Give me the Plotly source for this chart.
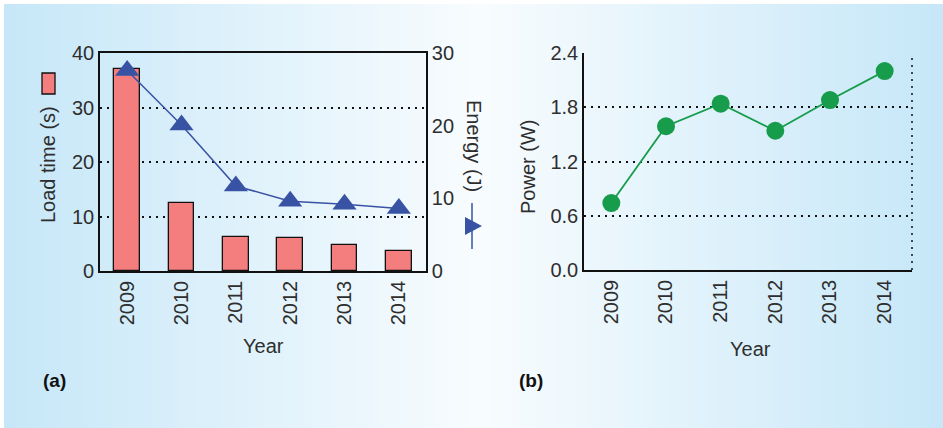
import plotly.graph_objects as go

W, H = 943, 428

# ---- data ----
years = ["2009", "2010", "2011", "2012", "2013", "2014"]
load_time = [37.0, 12.5, 6.3, 6.1, 4.7, 3.75]
energy = [27.6, 20.1, 11.7, 9.6, 9.2, 8.6]
power = [0.74, 1.59, 1.84, 1.54, 1.88, 2.20]

left_ticks = [0, 10, 20, 30, 40]
right_ticks = [0, 10, 20, 30]
power_ticks = [0.0, 0.6, 1.2, 1.8, 2.4]

# ---- styles ----
BAR = "#f47e7e"
BLUE = "#3953a4"
GREEN = "#169c4a"
TXT = "#2e2e2e"
FONT = "Liberation Sans"
DOT = "2px,5px"


def px(x):
    return x / W


def py(y):
    return (H - y) / H


fig = go.Figure()

fig.add_trace(go.Bar(
    x=years, y=load_time, xaxis="x", yaxis="y", width=0.47,
    marker=dict(color=BAR, line=dict(color="#111", width=1.3)),
    showlegend=False))

fig.add_trace(go.Scatter(
    x=years, y=energy, xaxis="x", yaxis="y2", mode="lines+markers",
    line=dict(color=BLUE, width=1.5),
    marker=dict(symbol="triangle-up", size=21, color=BLUE),
    showlegend=False))

fig.add_trace(go.Scatter(
    x=years, y=power, xaxis="x2", yaxis="y3", mode="lines+markers",
    line=dict(color=GREEN, width=1.8),
    marker=dict(symbol="circle", size=18, color=GREEN),
    showlegend=False))

# ---- background gradient stripes ----
shapes = []
edge = (198, 231, 248)
mid = (248, 252, 254)
x0 = 4
step = 4
xc = 480
while x0 < W:
    xm = x0 + step / 2
    if xm <= xc:
        t = (xm - 4) / (xc - 4)
    else:
        t = (W - xm) / (W - xc)
    t = max(0, min(1, t))
    c = tuple(int(round(edge[i] + (mid[i] - edge[i]) * t)) for i in range(3))
    shapes.append(dict(type="rect", xref="paper", yref="paper",
                       x0=px(x0), x1=px(min(x0 + step + 0.5, W)),
                       y0=0, y1=py(4), layer="below",
                       fillcolor="rgb(%d,%d,%d)" % c, line=dict(width=0)))
    x0 += step

# right panel: dotted right border
shapes.append(dict(type="line", xref="x2 domain", yref="y3 domain",
                   x0=1, x1=1, y0=0, y1=1,
                   line=dict(color="#111", width=1.5, dash=DOT)))

# legend swatch for load time
shapes.append(dict(type="rect", xref="paper", yref="paper",
                   x0=px(42), x1=px(55), y0=py(94), y1=py(73),
                   fillcolor=BAR, line=dict(color="#111", width=1.3)))
# legend symbol for energy
shapes.append(dict(type="line", xref="paper", yref="paper",
                   x0=px(472), x1=px(472), y0=py(203), y1=py(249),
                   line=dict(color=BLUE, width=1.5)))
shapes.append(dict(type="path", xref="paper", yref="paper",
                   path="M %f,%f L %f,%f L %f,%f Z" % (
                       px(465), py(217), px(482), py(226), px(465), py(235)),
                   fillcolor=BLUE, line=dict(width=0)))

axfont = dict(family=FONT, size=20, color=TXT)

ann = [
    dict(text="Load time (s)", x=px(48), y=py(165), textangle=-90),
    dict(text="Energy (J)", x=px(474), y=py(146), textangle=90),
    dict(text="Power (W)", x=px(528), y=py(167), textangle=-90),
    dict(text="Year", x=px(263), y=py(346)),
    dict(text="Year", x=px(750), y=py(349)),
]
annotations = []
for a in ann:
    a.update(xref="paper", yref="paper", showarrow=False,
             xanchor="center", yanchor="middle", font=axfont)
    annotations.append(a)
for lab, xx in (("(a)", 54), ("(b)", 531)):
    annotations.append(dict(text="<b>%s</b>" % lab, x=px(xx), y=py(380),
                            xref="paper", yref="paper", showarrow=False,
                            xanchor="center", yanchor="middle",
                            font=dict(family=FONT, size=19, color="#111")))

common_x = dict(type="category", range=[-0.5, 5.5], tickangle=-90,
                showline=True, linecolor="#111", linewidth=1.6,
                ticks="", showgrid=False, zeroline=False, automargin=False,
                tickfont=axfont, fixedrange=True)

fig.update_layout(
    width=W, height=H, autosize=False,
    margin=dict(l=0, r=0, t=0, b=0, pad=0, autoexpand=False),
    paper_bgcolor="white", plot_bgcolor="rgba(0,0,0,0)",
    font=dict(family=FONT, color=TXT),
    showlegend=False,
    bargap=0,
    xaxis=dict(domain=[px(100), px(426)], anchor="y", mirror=True, **common_x),
    xaxis2=dict(domain=[px(584), px(912)], anchor="y3", **common_x),
    yaxis=dict(domain=[py(271), py(53)], anchor="x", range=[0, 40],
               tickvals=left_ticks, ticktext=[str(v) for v in left_ticks],
               showline=True, linecolor="#111", linewidth=1.6, ticks="",
               showgrid=True, gridcolor="#111", gridwidth=1.5, griddash=DOT,
               zeroline=False, automargin=False, tickfont=axfont),
    yaxis2=dict(overlaying="y", side="right", anchor="x", range=[0, 30],
                tickvals=right_ticks, ticktext=[str(v) for v in right_ticks],
                showline=True, linecolor="#111", linewidth=1.6, ticks="",
                showgrid=False, zeroline=False, automargin=False,
                tickfont=axfont),
    yaxis3=dict(domain=[py(270), py(53)], anchor="x2", range=[0, 2.4],
                tickvals=power_ticks,
                ticktext=["%.1f" % v for v in power_ticks],
                showline=True, linecolor="#111", linewidth=1.6, ticks="",
                showgrid=True, gridcolor="#111", gridwidth=1.5, griddash=DOT,
                zeroline=False, automargin=False, tickfont=axfont),
    shapes=shapes,
    annotations=annotations,
)

pin = ("document.body.style.margin='0';"
       "var d=document.getElementById('{plot_id}');"
       "d.style.position='fixed';d.style.left='0px';d.style.top='0px';")
fig.write_html("out.html", config={"displayModeBar": False}, post_script=pin)
